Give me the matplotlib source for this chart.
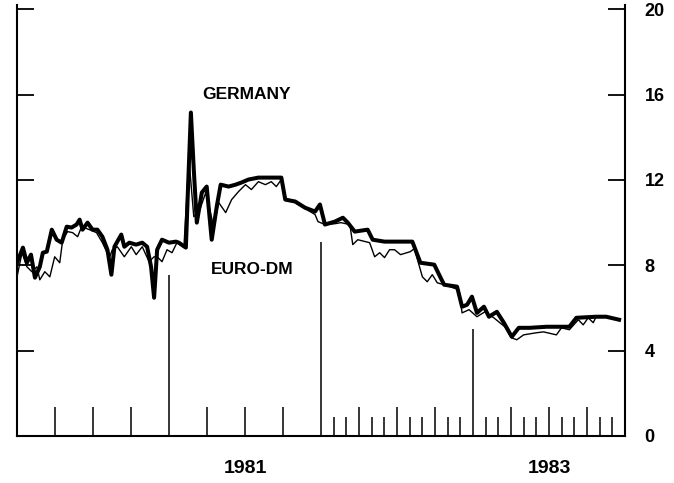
import matplotlib
matplotlib.use('Agg')
import matplotlib.pyplot as plt
import matplotlib.transforms as mtransforms
import numpy as np

# Germany (domestic) rate, decimal years / percent
ger_t = [1980.000, 1980.039, 1980.065, 1980.092, 1980.118, 1980.150, 1980.170, 1980.196,
         1980.229, 1980.261, 1980.294, 1980.327, 1980.359, 1980.392, 1980.412, 1980.431,
         1980.464, 1980.497, 1980.529, 1980.562, 1980.595, 1980.621, 1980.641, 1980.686,
         1980.706, 1980.739, 1980.784, 1980.824, 1980.856, 1980.882, 1980.902, 1980.922,
         1980.954, 1981.000, 1981.046, 1981.065, 1981.111, 1981.124, 1981.144, 1981.163,
         1981.183, 1981.216, 1981.248, 1981.281, 1981.314, 1981.340, 1981.392, 1981.438,
         1981.477, 1981.523, 1981.588, 1981.673, 1981.739, 1981.765, 1981.830, 1981.895,
         1981.961, 1981.993, 1982.026, 1982.092, 1982.144, 1982.176, 1982.222, 1982.307,
         1982.340, 1982.418, 1982.484, 1982.601, 1982.654, 1982.745, 1982.784, 1982.810,
         1982.895, 1982.928, 1982.961, 1982.993, 1983.026, 1983.072, 1983.105, 1983.157,
         1983.203, 1983.255, 1983.301, 1983.373, 1983.484, 1983.634, 1983.680, 1983.810,
         1983.876, 1983.961]
ger_r = [8.12, 8.83, 8.12, 8.50, 7.42, 7.93, 8.59, 8.64,
         9.67, 9.20, 9.06, 9.81, 9.77, 9.91, 10.14, 9.67,
         10.00, 9.67, 9.67, 9.34, 8.73, 7.56, 8.87, 9.44,
         8.87, 9.06, 8.97, 9.06, 8.87, 7.93, 6.48, 8.73,
         9.20, 9.06, 9.11, 9.06, 8.83, 11.41, 15.16, 12.49,
         10.00, 11.41, 11.69, 9.20, 10.75, 11.78, 11.69, 11.78,
         11.88, 12.02, 12.11, 12.11, 12.11, 11.08, 10.99, 10.70,
         10.52, 10.85, 9.91, 10.05, 10.23, 10.00, 9.58, 9.67,
         9.20, 9.11, 9.11, 9.11, 8.12, 8.03, 7.46, 7.09,
         7.00, 6.06, 6.15, 6.53, 5.77, 6.06, 5.59, 5.82,
         5.31, 4.65, 5.07, 5.07, 5.12, 5.12, 5.54, 5.59,
         5.59, 5.45]

# Euro-DM rate
eur_t = [1980.000, 1980.033, 1980.065, 1980.098, 1980.131, 1980.150, 1980.183, 1980.216,
         1980.248, 1980.281, 1980.301, 1980.333, 1980.366, 1980.399, 1980.425, 1980.477,
         1980.523, 1980.562, 1980.608, 1980.627, 1980.660, 1980.706, 1980.752, 1980.784,
         1980.824, 1980.869, 1980.902, 1980.922, 1980.954, 1980.987, 1981.020, 1981.052,
         1981.098, 1981.131, 1981.163, 1981.196, 1981.242, 1981.294, 1981.327, 1981.373,
         1981.412, 1981.458, 1981.503, 1981.542, 1981.588, 1981.634, 1981.673, 1981.706,
         1981.739, 1981.765, 1981.830, 1981.895, 1981.961, 1981.980, 1982.026, 1982.092,
         1982.131, 1982.190, 1982.209, 1982.242, 1982.320, 1982.353, 1982.386, 1982.418,
         1982.451, 1982.484, 1982.523, 1982.588, 1982.614, 1982.667, 1982.699, 1982.732,
         1982.765, 1982.810, 1982.908, 1982.928, 1982.974, 1983.026, 1983.078, 1983.137,
         1983.209, 1983.255, 1983.288, 1983.333, 1983.418, 1983.464, 1983.549, 1983.582,
         1983.634, 1983.693, 1983.725, 1983.758, 1983.791, 1983.810, 1983.876, 1983.961]
eur_r = [7.46, 8.59, 7.93, 7.70, 7.93, 7.32, 7.70, 7.46,
         8.40, 8.12, 9.20, 9.58, 9.53, 9.34, 9.81, 9.67,
         9.53, 9.06, 8.36, 8.73, 8.87, 8.40, 8.87, 8.50,
         8.87, 8.17, 8.40, 8.40, 8.17, 8.73, 8.59, 9.06,
         8.83, 13.00, 10.28, 10.47, 11.41, 9.81, 10.94, 10.47,
         11.08, 11.46, 11.78, 11.55, 11.92, 11.78, 11.92, 11.69,
         12.02, 11.08, 10.94, 10.66, 10.38, 10.05, 9.91, 9.95,
         10.00, 9.91, 8.97, 9.20, 9.06, 8.40, 8.59, 8.36,
         8.73, 8.73, 8.50, 8.64, 8.78, 7.46, 7.23, 7.56,
         7.18, 7.09, 6.85, 5.77, 5.92, 5.59, 5.82, 5.54,
         5.12, 4.60, 4.51, 4.74, 4.84, 4.88, 4.74, 5.07,
         4.98, 5.45, 5.21, 5.54, 5.31, 5.59, 5.59, 5.45]

# year divider lines and their heights
year_marks = [1981, 1982, 1983]
year_heights = [7.55, 9.1, 5.0]
year_labels = ['1981', '1983']
year_label_pos = [1981.5, 1983.5]
y_ticks = [0, 4, 8, 12, 16, 20]

FONT = 'Liberation Sans'

fig = plt.figure(figsize=(6.74, 4.83), dpi=100)
ax = fig.add_axes([17/674, 1 - 436/483, (625 - 17)/674, 431/483])

ax.plot(eur_t, eur_r, color='black', lw=1.0, solid_joinstyle='round')
ax.plot(ger_t, ger_r, color='black', lw=2.9, solid_joinstyle='round')
ax.vlines(year_marks, 0, year_heights, color='black', lw=1.1)

ax.set_xlim(1980, 1984)
ax.set_ylim(0, 20.2)

for s in ['left', 'right', 'bottom']:
    ax.spines[s].set_linewidth(1.5)
ax.spines['top'].set_visible(False)

# quarterly ticks (all years), monthly ticks only 1982-83
all_q = np.arange(1980, 1984.001, 0.25)
quarters = [q for q in all_q if abs(q - round(q)) > 1e-6]
months = [m for m in np.arange(1982, 1984.001, 1/12)
          if min(abs(m - q) for q in all_q) > 1e-6]
ax.set_xticks(quarters)
ax.set_xticks(months, minor=True)
ax.set_xticklabels([])
ax.tick_params(axis='x', which='major', direction='in', length=21, width=1.1)
ax.tick_params(axis='x', which='minor', direction='in', length=14, width=1.1)

ax.set_yticks(y_ticks)
ax.set_yticklabels([str(v) for v in y_ticks])
ax.tick_params(axis='y', which='both', direction='in', length=12, width=1.3,
               left=True, right=True, labelleft=False, labelright=True, pad=14)
for lab in ax.get_yticklabels(which='both'):
    lab.set_fontfamily(FONT)
    lab.set_fontweight('bold')
    lab.set_fontsize(13)

trans = mtransforms.blended_transform_factory(ax.transData, ax.transAxes)
for lbl, pos in zip(year_labels, year_label_pos):
    ax.text(pos, -0.075, lbl, transform=trans, ha='center', va='center',
            fontsize=14, fontweight='bold', family=FONT)

ax.text(1981.51, 16.0, 'GERMANY', ha='center', va='center', fontsize=12.5,
        fontweight='bold', family=FONT)
ax.text(1981.55, 7.8, 'EURO-DM', ha='center', va='center', fontsize=12.5,
        fontweight='bold', family=FONT)

fig.savefig('out.png', dpi=100)
